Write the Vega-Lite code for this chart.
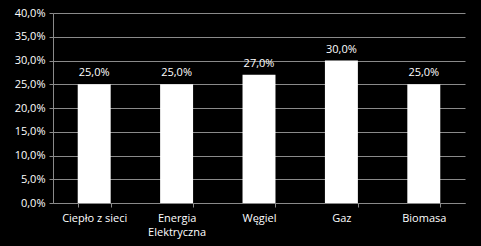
{
  "$schema": "https://vega.github.io/schema/vega-lite/v6.json",
  "autosize": "none",
  "width": 412,
  "height": 190,
  "padding": {"left": 53, "top": 13, "right": 16, "bottom": 43},
  "background": "#000000",
  "config": {
    "locale": {"number": {"decimal": ",", "thousands": " ", "grouping": [3], "currency": ["", " zł"]}},
    "view": {"stroke": null},
    "font": "Open Sans"
  },
  "data": {
    "values": [
      {"kategoria": "Ciepło z sieci", "udzial": 0.25},
      {"kategoria": "Energia Elektryczna", "udzial": 0.25},
      {"kategoria": "Węgiel", "udzial": 0.27},
      {"kategoria": "Gaz", "udzial": 0.30},
      {"kategoria": "Biomasa", "udzial": 0.25}
    ]
  },
  "encoding": {
    "x": {
      "field": "kategoria",
      "type": "nominal",
      "sort": null,
      "scale": {"paddingInner": 0.6, "paddingOuter": 0.3},
      "axis": {
        "title": null,
        "labelAngle": 0,
        "labelColor": "#ffffff",
        "labelFontSize": 11,
        "labelPadding": 5,
        "labelLineHeight": 14,
        "labelBaseline": "top",
        "labelExpr": "datum.label == 'Energia Elektryczna' ? ['Energia', 'Elektryczna'] : datum.label",
        "tickBand": "extent",
        "tickColor": "#8a8a8a",
        "tickSize": 4,
        "domainColor": "#8a8a8a",
        "grid": false
      }
    },
    "y": {
      "field": "udzial",
      "type": "quantitative",
      "scale": {"domain": [0, 0.4]},
      "axis": {
        "title": null,
        "format": ".1%",
        "values": [0, 0.05, 0.1, 0.15, 0.2, 0.25, 0.3, 0.35, 0.4],
        "labelColor": "#ffffff",
        "labelFontSize": 11,
        "labelPadding": 4,
        "tickColor": "#8a8a8a",
        "tickSize": 4,
        "domainColor": "#8a8a8a",
        "gridColor": "#8a8a8a",
        "gridWidth": 1
      }
    }
  },
  "layer": [
    {"mark": {"type": "bar", "color": "#ffffff"}},
    {
      "mark": {"type": "text", "color": "#ffffff", "fontSize": 11, "dy": -6, "baseline": "bottom"},
      "encoding": {"text": {"field": "udzial", "type": "quantitative", "format": ".1%"}}
    }
  ]
}
